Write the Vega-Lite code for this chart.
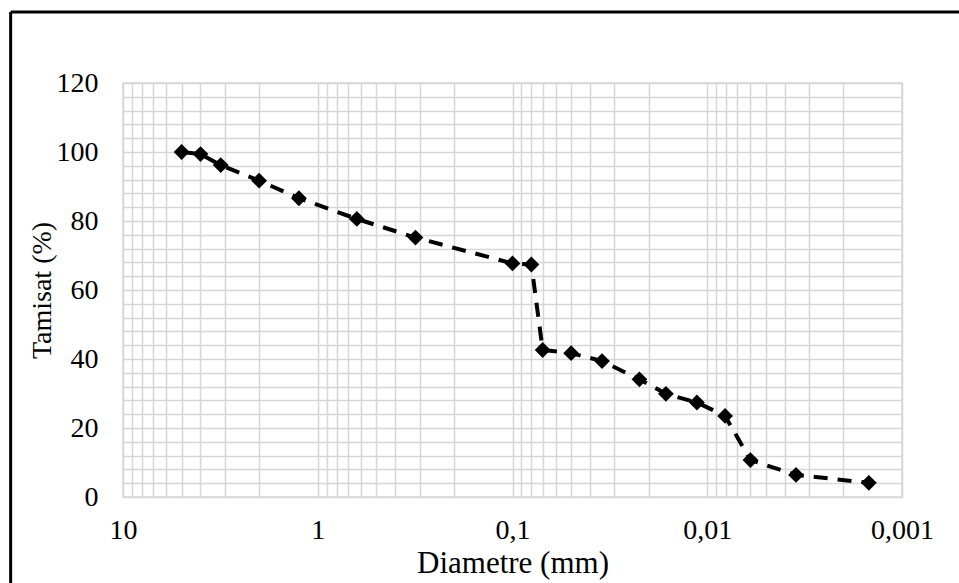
{
  "$schema": "https://vega.github.io/schema/vega-lite/v6.json",
  "width": 779,
  "height": 414,
  "autosize": {"type": "none"},
  "padding": {"left": 123, "top": 83, "right": 57, "bottom": 86},
  "background": "white",
  "config": {
    "view": {"stroke": "#d9d9d9", "strokeWidth": 1.5},
    "font": "Liberation Serif",
    "axis": {
      "grid": true,
      "gridColor": "#d6d6d6",
      "gridWidth": 1.5,
      "ticks": false,
      "tickSize": 0,
      "domain": false,
      "labelFontSize": 28,
      "labelColor": "black",
      "labelFlush": false,
      "labelOverlap": false,
      "labelBound": false,
      "titleFontSize": 28,
      "titleFontWeight": "normal",
      "titleColor": "black"
    },
    "axisX": {"labelPadding": 19, "titlePadding": 4, "titleFontSize": 31},
    "axisY": {"labelPadding": 25, "titlePadding": 0}
  },
  "datasets": {
    "frame": [{}]
  },
  "data": {
    "values": [
      {"i": 1, "d": 5, "t": 100},
      {"i": 2, "d": 4, "t": 99.4},
      {"i": 3, "d": 3.15, "t": 96.2},
      {"i": 4, "d": 2, "t": 91.7},
      {"i": 5, "d": 1.25, "t": 86.6},
      {"i": 6, "d": 0.63, "t": 80.6},
      {"i": 7, "d": 0.315, "t": 75.2},
      {"i": 8, "d": 0.1, "t": 67.7},
      {"i": 9, "d": 0.08, "t": 67.4},
      {"i": 10, "d": 0.07, "t": 42.6},
      {"i": 11, "d": 0.05, "t": 41.7},
      {"i": 12, "d": 0.0347, "t": 39.4},
      {"i": 13, "d": 0.0223, "t": 34.1},
      {"i": 14, "d": 0.0163, "t": 29.9},
      {"i": 15, "d": 0.0113, "t": 27.4},
      {"i": 16, "d": 0.0081, "t": 23.5},
      {"i": 17, "d": 0.006, "t": 10.7},
      {"i": 18, "d": 0.0035, "t": 6.4},
      {"i": 19, "d": 0.00148, "t": 4.1}
    ]
  },
  "layer": [
    {
      "mark": {"type": "line", "color": "black", "strokeWidth": 4, "strokeDash": [14, 10]},
      "encoding": {
        "x": {
          "field": "d",
          "type": "quantitative",
          "scale": {"type": "log", "domain": [0.001, 10], "reverse": true, "nice": false},
          "axis": {
            "values": [10, 9, 8, 7, 6, 5, 4, 3, 2, 1, 0.9, 0.8, 0.7, 0.6, 0.5, 0.4, 0.3, 0.2, 0.1, 0.09, 0.08, 0.07, 0.06, 0.05, 0.04, 0.03, 0.02, 0.01, 0.009, 0.008, 0.007, 0.006, 0.005, 0.004, 0.003, 0.002, 0.001],
            "labelExpr": "abs(datum.value-10)<1e-9 ? '10' : abs(datum.value-1)<1e-9 ? '1' : abs(datum.value-0.1)<1e-9 ? '0,1' : abs(datum.value-0.01)<1e-9 ? '0,01' : abs(datum.value-0.001)<1e-9 ? '0,001' : ''",
            "title": "Diametre (mm)"
          }
        },
        "y": {
          "field": "t",
          "type": "quantitative",
          "scale": {"domain": [0, 120], "nice": false, "zero": false},
          "axis": {
            "values": [0, 4, 8, 12, 16, 20, 24, 28, 32, 36, 40, 44, 48, 52, 56, 60, 64, 68, 72, 76, 80, 84, 88, 92, 96, 100, 104, 108, 112, 116, 120],
            "labelExpr": "datum.value % 20 === 0 ? datum.label : ''",
            "title": "Tamisat (%)"
          }
        },
        "order": {"field": "i", "type": "quantitative"}
      }
    },
    {
      "mark": {"type": "point", "shape": "diamond", "filled": true, "color": "black", "size": 250, "opacity": 1},
      "encoding": {
        "x": {
          "field": "d",
          "type": "quantitative",
          "axis": {
            "values": [10, 9, 8, 7, 6, 5, 4, 3, 2, 1, 0.9, 0.8, 0.7, 0.6, 0.5, 0.4, 0.3, 0.2, 0.1, 0.09, 0.08, 0.07, 0.06, 0.05, 0.04, 0.03, 0.02, 0.01, 0.009, 0.008, 0.007, 0.006, 0.005, 0.004, 0.003, 0.002, 0.001],
            "labelExpr": "abs(datum.value-10)<1e-9 ? '10' : abs(datum.value-1)<1e-9 ? '1' : abs(datum.value-0.1)<1e-9 ? '0,1' : abs(datum.value-0.01)<1e-9 ? '0,01' : abs(datum.value-0.001)<1e-9 ? '0,001' : ''",
            "title": "Diametre (mm)"
          }
        },
        "y": {
          "field": "t",
          "type": "quantitative",
          "axis": {
            "values": [0, 4, 8, 12, 16, 20, 24, 28, 32, 36, 40, 44, 48, 52, 56, 60, 64, 68, 72, 76, 80, 84, 88, 92, 96, 100, 104, 108, 112, 116, 120],
            "labelExpr": "datum.value % 20 === 0 ? datum.label : ''",
            "title": "Tamisat (%)"
          }
        }
      }
    },
    {
      "data": {"name": "frame"},
      "mark": {"type": "rule", "color": "black", "strokeWidth": 3},
      "encoding": {
        "x": {
          "datum": 37.75,
          "type": "quantitative",
          "axis": {
            "values": [10, 9, 8, 7, 6, 5, 4, 3, 2, 1, 0.9, 0.8, 0.7, 0.6, 0.5, 0.4, 0.3, 0.2, 0.1, 0.09, 0.08, 0.07, 0.06, 0.05, 0.04, 0.03, 0.02, 0.01, 0.009, 0.008, 0.007, 0.006, 0.005, 0.004, 0.003, 0.002, 0.001],
            "labelExpr": "abs(datum.value-10)<1e-9 ? '10' : abs(datum.value-1)<1e-9 ? '1' : abs(datum.value-0.1)<1e-9 ? '0,1' : abs(datum.value-0.01)<1e-9 ? '0,01' : abs(datum.value-0.001)<1e-9 ? '0,001' : ''",
            "title": "Diametre (mm)"
          }
        },
        "x2": {"datum": 0.0001},
        "y": {
          "datum": 140.58,
          "type": "quantitative",
          "axis": {
            "values": [0, 4, 8, 12, 16, 20, 24, 28, 32, 36, 40, 44, 48, 52, 56, 60, 64, 68, 72, 76, 80, 84, 88, 92, 96, 100, 104, 108, 112, 116, 120],
            "labelExpr": "datum.value % 20 === 0 ? datum.label : ''",
            "title": "Tamisat (%)"
          }
        }
      }
    },
    {
      "data": {"name": "frame"},
      "mark": {"type": "rule", "color": "black", "strokeWidth": 3},
      "encoding": {
        "x": {
          "datum": 37.75,
          "type": "quantitative",
          "axis": {
            "values": [10, 9, 8, 7, 6, 5, 4, 3, 2, 1, 0.9, 0.8, 0.7, 0.6, 0.5, 0.4, 0.3, 0.2, 0.1, 0.09, 0.08, 0.07, 0.06, 0.05, 0.04, 0.03, 0.02, 0.01, 0.009, 0.008, 0.007, 0.006, 0.005, 0.004, 0.003, 0.002, 0.001],
            "labelExpr": "abs(datum.value-10)<1e-9 ? '10' : abs(datum.value-1)<1e-9 ? '1' : abs(datum.value-0.1)<1e-9 ? '0,1' : abs(datum.value-0.01)<1e-9 ? '0,01' : abs(datum.value-0.001)<1e-9 ? '0,001' : ''",
            "title": "Diametre (mm)"
          }
        },
        "y": {
          "datum": 140.58,
          "type": "quantitative",
          "axis": {
            "values": [0, 4, 8, 12, 16, 20, 24, 28, 32, 36, 40, 44, 48, 52, 56, 60, 64, 68, 72, 76, 80, 84, 88, 92, 96, 100, 104, 108, 112, 116, 120],
            "labelExpr": "datum.value % 20 === 0 ? datum.label : ''",
            "title": "Tamisat (%)"
          }
        },
        "y2": {"datum": -50}
      }
    }
  ]
}
